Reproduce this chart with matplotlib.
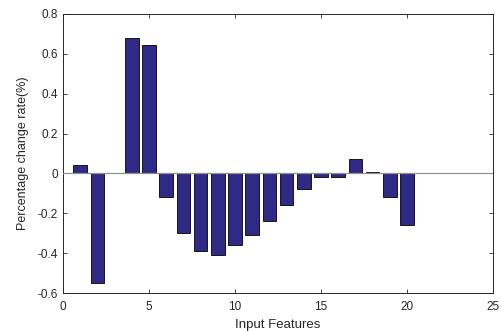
import matplotlib.pyplot as plt

features = list(range(1, 21))
change = [0.04, -0.55, 0.0, 0.68, 0.645, -0.117, -0.30, -0.39, -0.41, -0.36,
          -0.31, -0.24, -0.157, -0.077, -0.02, -0.02, 0.07, 0.005, -0.12, -0.26]
xticks = [0, 5, 10, 15, 20, 25]
yticks = [-0.6, -0.4, -0.2, 0, 0.2, 0.4, 0.6, 0.8]
ylabels = ["-0.6", "-0.4", "-0.2", "0", "0.2", "0.4", "0.6", "0.8"]

plt.rcParams["font.family"] = ["Liberation Sans", "DejaVu Sans"]

fig = plt.figure(figsize=(5.02, 3.31), dpi=100)
ax = fig.add_axes([63 / 502, 1 - 293 / 331, 430 / 502, 279 / 331])

ax.bar(features, change, width=0.8, color="#2e2a85", edgecolor="black", linewidth=0.6, zorder=2)
ax.axhline(0, color="#909090", linewidth=0.9, zorder=3)

ax.set_xlim(0, 25)
ax.set_ylim(-0.6, 0.8)
ax.set_xticks(xticks)
ax.set_yticks(yticks)
ax.set_yticklabels(ylabels)
ax.tick_params(direction="in", length=3, width=0.6, labelsize=8.5, colors="#262626",
               top=True, right=True)
ax.tick_params(axis="x", pad=6)
for s in ax.spines.values():
    s.set_linewidth(0.7)
    s.set_color("#262626")

ax.set_xlabel("Input Features", fontsize=9.5, color="#262626", labelpad=4)
ax.set_ylabel("Percentage change rate(%)", fontsize=9, color="#262626", labelpad=6)

fig.savefig("out.png", dpi=100)
